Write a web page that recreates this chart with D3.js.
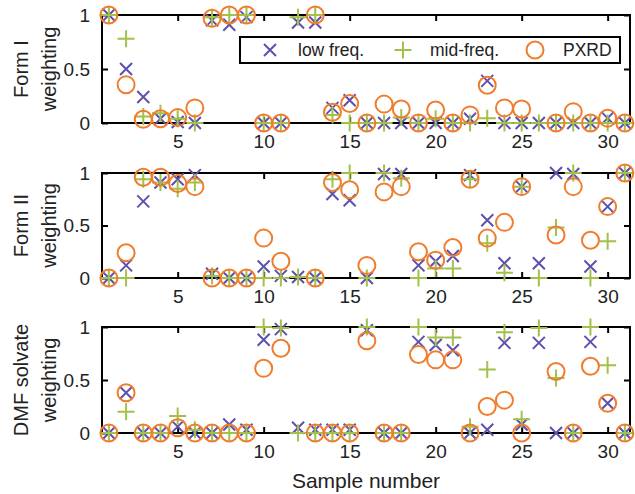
<!DOCTYPE html>
<html><head><meta charset="utf-8">
<script src="https://cdn.jsdelivr.net/npm/d3@7"></script>
<style>body{margin:0;background:#fff}svg{display:block}</style>
</head><body><svg id="c" width="635" height="494"></svg>
<script>
const samples = d3.range(1, 32);
const seriesNames = ["low freq.", "mid-freq.", "PXRD"];
const panelLabels = [["Form I", "weighting"], ["Form II", "weighting"], ["DMF solvate", "weighting"]];
const xTicks = [5, 10, 15, 20, 25, 30];
const yTicks = [0, 0.5, 1];
const yTickLabels = ["0", "0.5", "1"];

const formI_low  = [1,0.50,0.24,0.04,0.01,0,0.95,0.91,0.98,0,0,0.93,0.93,0.14,0.21,0,0,0,0,0,0,0.04,0.39,0,0,0,0,0,0,0.045,0];
const formI_mid  = [1,0.78,0.06,0.09,0.04,0,0.98,1,1,0,0,0.98,1,0.075,0,0,0,0.05,0,0.04,0,0,0.045,0,0,0,0,0,0,0,0];
const formI_pxrd = [1,0.355,0.035,0.04,0.05,0.14,0.97,1,1,0,0,null,1,0.10,0.18,0,0.175,0.13,0,0.12,0,0.075,0.35,0.14,0.13,null,0,0.105,0,0.045,0];

const formII_low  = [0,0.12,0.73,0.91,0.94,0.98,0.04,0,0,0.11,0.02,0.01,0,0.80,0.74,0,0.99,0.99,0.12,0.16,0.21,0.98,0.55,0.14,0.87,0.14,1.0,0.99,0.11,0.68,1];
const formII_mid  = [0,0,0.94,0.91,0.85,0.91,0.02,0,0,0,0,0.01,0,0.94,1.0,0,1.0,0.95,0,0.09,0.09,0.94,0.33,0.05,0.87,0,0.48,1.0,0,0.35,1];
const formII_pxrd = [0,0.24,0.96,0.96,0.90,0.87,0,0,0,0.38,0.16,null,0,0.91,0.84,0.12,0.82,0.87,0.25,0.17,0.29,0.94,0.38,0.53,0.87,null,0.41,0.87,0.36,0.68,1];

const dmf_low  = [0,0.38,0,0,0.06,0,0,0.08,0.03,0.88,0.98,0.05,0.03,0.03,0.03,0.97,0,0,0.86,0.83,0.78,0,0.03,0.85,0.08,0.85,0,0,0.86,0.28,0];
const dmf_mid  = [0,0.20,0,0,0.16,0.03,0,0,0,1.0,0.99,0,0,0,0,1.0,0,0,1.0,0.90,0.90,0.06,0.60,0.95,0.13,0.99,0.52,0,1.0,0.64,0];
const dmf_pxrd = [0,0.38,0,0,0.05,0,0,0,0,0.61,0.80,null,0,0,0,0.87,0,0,0.74,0.69,0.69,0,0.25,0.31,0,null,0.58,0,0.63,0.28,0];

const panelData = [
  [formI_low, formI_mid, formI_pxrd],
  [formII_low, formII_mid, formII_pxrd],
  [dmf_low, dmf_mid, dmf_pxrd]
];

const colors = ["#5e50ad", "#a2c04a", "#f07d2e"];
const FONT = "'Liberation Sans', Arial, sans-serif";
const svg = d3.select("#c");
const left = 102, right = 630;
const panels = [[15, 123], [173, 278], [327, 433]];
const x = d3.scaleLinear().domain([0.6, 31.3]).range([left, right]);

function drawMarker(g, type, cx, cy, color) {
  if (type === 0) {
    const s = 6;
    g.append("path").attr("d", `M${cx-s},${cy-s}L${cx+s},${cy+s}M${cx-s},${cy+s}L${cx+s},${cy-s}`)
      .attr("stroke", color).attr("stroke-width", 2).attr("fill", "none");
  } else if (type === 1) {
    const s = 8.5;
    g.append("path").attr("d", `M${cx-s},${cy}L${cx+s},${cy}M${cx},${cy-s}L${cx},${cy+s}`)
      .attr("stroke", color).attr("stroke-width", 2).attr("fill", "none");
  } else {
    g.append("circle").attr("cx", cx).attr("cy", cy).attr("r", 8.5)
      .attr("stroke", color).attr("stroke-width", 2).attr("fill", "none");
  }
}

panels.forEach(([top, bottom], pi) => {
  const y = d3.scaleLinear().domain([0, 1]).range([bottom, top]);
  const g = svg.append("g");
  // box
  g.append("rect").attr("x", left).attr("y", top).attr("width", right - left).attr("height", bottom - top)
    .attr("fill", "none").attr("stroke", "#000").attr("stroke-width", 2);
  // bottom axis ticks (inward) + labels
  const xb = d3.axisBottom(x).tickValues(xTicks).tickSizeInner(-6).tickSizeOuter(0).tickPadding(12);
  const gx = g.append("g").attr("transform", `translate(0,${bottom})`).call(xb);
  gx.select(".domain").remove();
  gx.selectAll("line").attr("stroke", "#000").attr("stroke-width", 2);
  gx.selectAll("text").attr("font-family", FONT).attr("font-size", 19).attr("fill", "#222");
  const xt = d3.axisTop(x).tickValues(xTicks).tickSizeInner(-6).tickSizeOuter(0).tickFormat("");
  const gxt = g.append("g").attr("transform", `translate(0,${top})`).call(xt);
  gxt.select(".domain").remove();
  gxt.selectAll("line").attr("stroke", "#000").attr("stroke-width", 2);
  // left axis
  const yl = d3.axisLeft(y).tickValues(yTicks).tickFormat((d, i) => yTickLabels[i]).tickSizeInner(-6).tickSizeOuter(0).tickPadding(12);
  const gy = g.append("g").attr("transform", `translate(${left},0)`).call(yl);
  gy.select(".domain").remove();
  gy.selectAll("line").attr("stroke", "#000").attr("stroke-width", 2);
  gy.selectAll("text").attr("font-family", FONT).attr("font-size", 19).attr("fill", "#222");
  const yr = d3.axisRight(y).tickValues(yTicks).tickSizeInner(-6).tickSizeOuter(0).tickFormat("");
  const gyr = g.append("g").attr("transform", `translate(${right},0)`).call(yr);
  gyr.select(".domain").remove();
  gyr.selectAll("line").attr("stroke", "#000").attr("stroke-width", 2);
  // y label
  const cy = (top + bottom) / 2;
  panelLabels[pi].forEach((t, li) => {
    g.append("text").attr("transform", `translate(${21 + li * 28},${cy}) rotate(-90)`)
      .attr("text-anchor", "middle").attr("dy", "0.35em")
      .attr("font-family", FONT).attr("font-size", 20).attr("fill", "#222").text(t);
  });
  // markers
  const mg = g.append("g");
  panelData[pi].forEach((vals, si) => {
    vals.forEach((v, i) => {
      if (v === null) return;
      drawMarker(mg, si, x(samples[i]), y(v), colors[si]);
    });
  });
});

// legend
const lg = svg.append("g");
lg.append("rect").attr("x", 240).attr("y", 37).attr("width", 380).attr("height", 26)
  .attr("fill", "#fff").attr("stroke", "#000").attr("stroke-width", 2);
const legendPos = [[270, 298], [403, 430], [535, 563]];
seriesNames.forEach((name, i) => {
  drawMarker(lg, i, legendPos[i][0], 50, colors[i]);
  lg.append("text").attr("x", legendPos[i][1]).attr("y", 50).attr("dy", "0.35em")
    .attr("font-family", FONT).attr("font-size", 17.5).attr("fill", "#222").text(name);
});

svg.append("text").attr("x", 366).attr("y", 488).attr("text-anchor", "middle")
  .attr("font-family", FONT).attr("font-size", 21).attr("fill", "#222").text("Sample number");
</script>
</body></html>
